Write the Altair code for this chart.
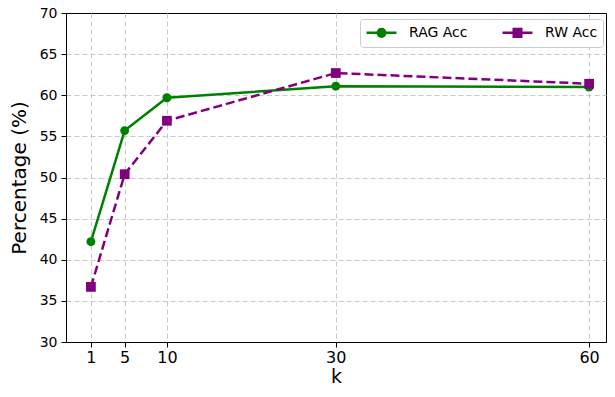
import altair as alt
import pandas as pd

k_values = [1, 5, 10, 30, 60]
rag_acc = [42.2, 55.7, 59.7, 61.1, 61.0]
rw_acc = [36.7, 50.4, 56.9, 62.7, 61.4]
series_names = ["RAG Acc", "RW Acc"]
series_colors = ["green", "purple"]
y_ticks = [30, 35, 40, 45, 50, 55, 60, 65, 70]

df = pd.DataFrame({
    "k": k_values * 2,
    "value": rag_acc + rw_acc,
    "series": [series_names[0]] * len(k_values) + [series_names[1]] * len(k_values),
})

FONT = "DejaVu Sans"

x_enc = alt.X(
    "k:Q",
    scale=alt.Scale(domain=[-1.95, 62.0], nice=False, zero=False),
    axis=alt.Axis(
        values=k_values, title="k", labelFontSize=16, titleFontSize=19,
        tickSize=5, labelPadding=2, titlePadding=2, labelFlush=False,
        labelOverlap=False, grid=True,
    ),
)
y_enc = alt.Y(
    "value:Q",
    scale=alt.Scale(domain=[30, 70], nice=False, zero=False),
    axis=alt.Axis(
        values=y_ticks, title="Percentage (%)", labelFontSize=14, titleFontSize=20,
        tickSize=5, labelPadding=4, titlePadding=10, labelFlush=False, grid=True,
        gridOpacity={"condition": {"test": "datum.value === 70 || datum.value === 30", "value": 0}, "value": 1},
    ),
)

base = alt.Chart(df)

line_rag = base.transform_filter(alt.datum.series == series_names[0]).mark_line(
    color=series_colors[0], strokeWidth=2.5
).encode(x=x_enc, y=y_enc)

line_rw = base.transform_filter(alt.datum.series == series_names[1]).mark_line(
    color=series_colors[1], strokeWidth=2.5, strokeDash=[9, 4], strokeCap="butt"
).encode(x=x_enc, y=y_enc)

pts_rag = base.transform_filter(alt.datum.series == series_names[0]).mark_point(
    shape="circle", filled=True, color=series_colors[0], size=80, opacity=1
).encode(x=x_enc, y=y_enc)

pts_rw = base.transform_filter(alt.datum.series == series_names[1]).mark_point(
    shape="square", filled=True, color=series_colors[1], size=95, opacity=1
).encode(x=x_enc, y=y_enc)

# legend carrier: no drawn marks, only the legend (line + marker symbols)
circle_path = "M-2.14,0H2.14M0.54,0A0.54,0.54,0,1,1,-0.54,0A0.54,0.54,0,1,1,0.54,0Z"
square_path = "M-2.14,0H2.14M-0.54,-0.54H0.54V0.54H-0.54Z"

legend = alt.Legend(
    title=None, orient="none", legendX=294, legendY=6, direction="horizontal",
    columns=2, symbolSize=196, symbolOffset=8, symbolStrokeWidth=2.5, labelFontSize=14,
    labelFont=FONT, labelColor="black", labelOffset=19, columnPadding=29,
    padding=5, fillColor="white", strokeColor="#cccccc", cornerRadius=3,
)

carrier = base.transform_filter("false").mark_point(filled=True, opacity=1).encode(
    color=alt.Color("series:N", scale=alt.Scale(domain=series_names, range=series_colors), legend=legend),
    stroke=alt.Stroke("series:N", scale=alt.Scale(domain=series_names, range=series_colors), legend=legend),
    shape=alt.Shape("series:N", scale=alt.Scale(domain=series_names, range=[circle_path, square_path]), legend=legend),
)

chart = alt.layer(line_rag, line_rw, pts_rag, pts_rw, carrier).properties(
    width=540, height=329,
    autosize=alt.AutoSizeParams(type="none"),
    padding={"left": 58, "top": 5, "right": 1, "bottom": 47},
).configure(
    background="white"
).configure_view(
    stroke="black", strokeWidth=1
).configure_axis(
    labelFont=FONT, titleFont=FONT, labelColor="black", titleColor="black",
    titleFontWeight="normal", domainColor="black", tickColor="black",
    gridColor="#c8c8c8", gridDash=[5, 3], gridWidth=1,
)

chart.save("out.html", embed_options={"renderer": "svg", "actions": False})
